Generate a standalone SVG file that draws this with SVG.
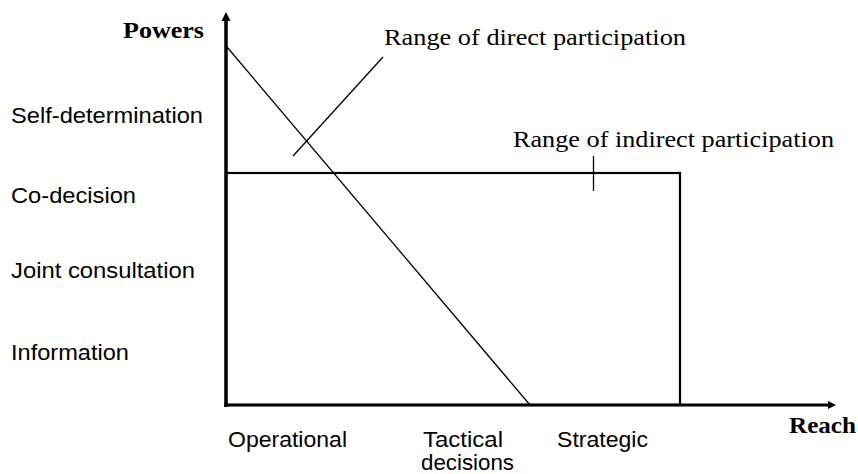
<svg xmlns="http://www.w3.org/2000/svg" width="858" height="474" viewBox="0 0 858 474">
<style>
.sans{font-family:"Liberation Sans",Arial,sans-serif;font-size:22.5px;fill:#000}
.serif{font-family:"Liberation Serif","Times New Roman",serif;font-size:23px;fill:#000}
.bold{font-weight:bold;font-size:24px}
.ln{stroke:#000;fill:none}
</style>
<rect width="858" height="474" fill="#fff"/>
<g id="axes">
<line class="ln" x1="226" y1="407" x2="226" y2="19" stroke-width="3.5"/>
<polygon points="226,12 221.5,21 230.5,21" fill="#000"/>
<line class="ln" x1="224" y1="405" x2="829" y2="405" stroke-width="3"/>
<polygon points="836,405 828,401 828,409" fill="#000"/>
<text class="serif bold" x="123" y="38" textLength="81" lengthAdjust="spacingAndGlyphs">Powers</text>
<text class="serif bold" x="789" y="433" textLength="67" lengthAdjust="spacingAndGlyphs">Reach</text>
</g>
<g id="y-labels">
<text class="sans" x="11" y="123" textLength="192" lengthAdjust="spacingAndGlyphs">Self-determination</text>
<text class="sans" x="11" y="203" textLength="125" lengthAdjust="spacingAndGlyphs">Co-decision</text>
<text class="sans" x="11" y="278" textLength="184" lengthAdjust="spacingAndGlyphs">Joint consultation</text>
<text class="sans" x="11" y="360" textLength="118" lengthAdjust="spacingAndGlyphs">Information</text>
</g>
<g id="x-labels">
<text class="sans" x="228" y="447" textLength="119" lengthAdjust="spacingAndGlyphs">Operational</text>
<text class="sans" x="423" y="447" textLength="80" lengthAdjust="spacingAndGlyphs">Tactical</text>
<text class="sans" x="421" y="470" textLength="93" lengthAdjust="spacingAndGlyphs">decisions</text>
<text class="sans" x="557" y="447" textLength="91" lengthAdjust="spacingAndGlyphs">Strategic</text>
</g>
<g id="indirect">
<rect class="ln" x="226" y="173" width="454" height="232" stroke-width="2.2"/>
<text class="serif" x="513" y="147" textLength="321" lengthAdjust="spacingAndGlyphs">Range of indirect participation</text>
</g>
<g id="direct">
<line class="ln" x1="227" y1="47" x2="530" y2="405" stroke-width="1.3"/>
<text class="serif" x="384" y="45" textLength="302" lengthAdjust="spacingAndGlyphs">Range of direct participation</text>
</g>
<g id="connectors">
<line class="ln" x1="293" y1="156" x2="383" y2="57" stroke-width="1.3"/>
<line class="ln" x1="593.5" y1="156" x2="593.5" y2="191" stroke-width="1.3"/>
</g>
</svg>
